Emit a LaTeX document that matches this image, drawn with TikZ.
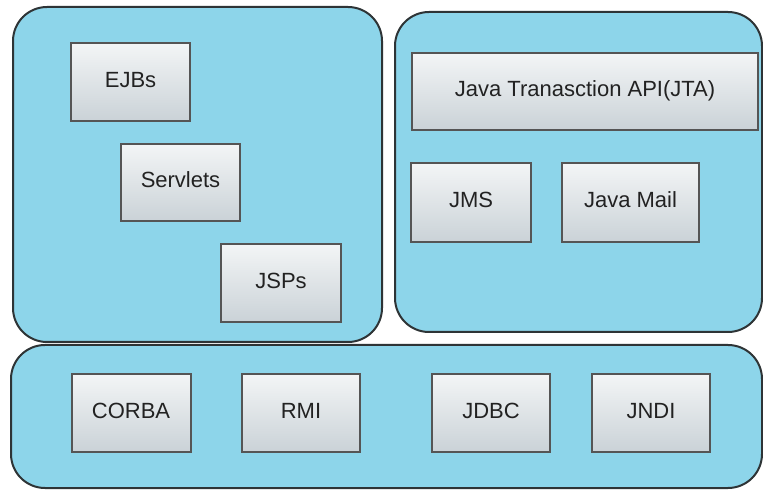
\documentclass[tikz,border=0pt]{standalone}
\usepackage{fontspec}
\setmainfont{Liberation Sans}
\definecolor{panelfill}{HTML}{8DD5EA}
\definecolor{panelline}{HTML}{2E3436}
\definecolor{boxtop}{HTML}{F3F5F6}
\definecolor{boxbot}{HTML}{CAD2D7}
\definecolor{boxline}{HTML}{555555}
\definecolor{txt}{HTML}{222222}
\tikzset{
  panel/.style={draw=panelline, fill=panelfill, line width=2pt, rounded corners=34pt},
  comp/.style={draw=boxline, line width=2pt, top color=boxtop, bottom color=boxbot,
    text=txt, font=\fontsize{22}{26}\selectfont, inner sep=0pt, anchor=center,
    text height=16pt, text depth=5.5pt}
}
\begin{document}
\begin{tikzpicture}[x=1pt,y=1pt]
\useasboundingbox (0,0) rectangle (763,490);
\fill[white] (0,0) rectangle (763,490);
% containers
\draw[panel] (13,148) rectangle (382,483);
\draw[panel] (395,158) rectangle (762,478);
\draw[panel] (11,2) rectangle (762,145);
% components
\node[comp, minimum width=119pt, minimum height=78pt] (ejb) at (130.5,408) {EJBs};
\node[comp, minimum width=119pt, minimum height=77pt] (srv) at (180.5,307.5) {Servlets};
\node[comp, minimum width=120pt, minimum height=78pt] (jsp) at (281,207) {JSPs};
\node[comp, minimum width=346pt, minimum height=77pt] (jta) at (585,398.5) {Java Tranasction API(JTA)};
\node[comp, minimum width=120pt, minimum height=79pt] (jms) at (471,287.5) {JMS};
\node[comp, minimum width=137pt, minimum height=79pt] (mail) at (630.5,287.5) {Java Mail};
\node[comp, minimum width=119pt, minimum height=78pt] (corba) at (131,77) {CORBA};
\node[comp, minimum width=118pt, minimum height=78pt] (rmi) at (301,77) {RMI};
\node[comp, minimum width=118pt, minimum height=78pt] (jdbc) at (491,77) {JDBC};
\node[comp, minimum width=118pt, minimum height=78pt] (jndi) at (651,77) {JNDI};
\end{tikzpicture}
\end{document}
